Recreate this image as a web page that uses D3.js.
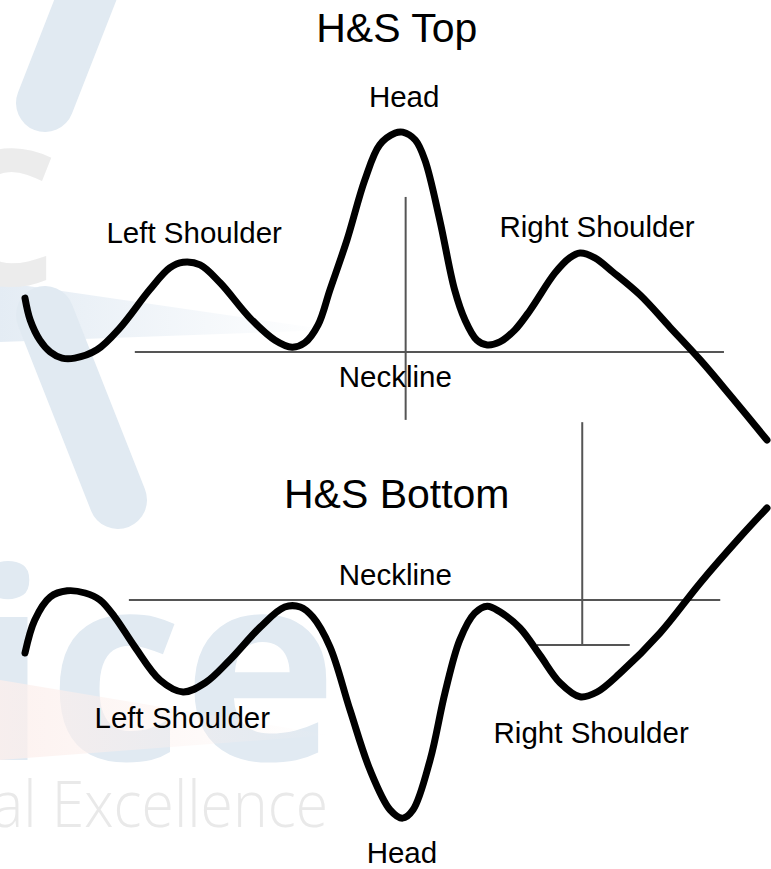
<!DOCTYPE html>
<html>
<head>
<meta charset="utf-8">
<script src="https://cdn.jsdelivr.net/npm/d3@7/dist/d3.min.js"></script>
<style>
  html, body { margin: 0; padding: 0; background: #fff; }
  svg { display: block; }
  text { font-family: "Liberation Sans", Arial, sans-serif; }
</style>
</head>
<body>
<div id="chart"></div>
<script>
var width = 771
var height = 869

// time index (0..100) vs price
var topCurve = [
  [0, 62.3], [0.7, 57.3], [2.0, 52.7], [3.4, 50.0], [5.0, 48.6], [6.7, 48.6],
  [9.7, 50.5], [12.8, 55.5], [16.8, 64.2], [19.5, 69.2], [21.3, 70.5], [23.6, 69.9],
  [26.3, 65.8], [30.3, 57.8], [33.7, 52.7], [36.0, 51.1], [37.7, 52.1], [39.5, 56.2],
  [41.1, 64.2], [43.4, 75.6], [45.8, 89.3], [47.8, 97.3], [49.9, 100.0], [50.9, 100.2],
  [52.6, 98.4], [53.9, 93.8], [55.9, 80.1], [57.9, 64.2], [59.3, 57.3], [60.9, 52.7],
  [62.3, 51.6], [64.0, 52.3], [66.0, 55.0], [68.1, 59.6], [71.4, 68.0], [73.4, 71.5],
  [74.8, 72.6], [76.8, 71.5], [79.2, 68.3], [82.9, 63.0], [86.9, 55.7], [91.0, 48.2],
  [95.0, 40.2], [100, 29.9]
]

var bottomCurve = [
  [0, 37.9], [1.3, 45.4], [3.4, 50.7], [5.7, 52.1], [8.1, 51.6], [10.1, 50.0],
  [12.1, 46.1], [14.8, 39.3], [18.2, 31.7], [21.3, 29.0], [24.3, 31.1], [27.6, 36.3],
  [31.7, 43.8], [35.0, 48.4], [37.1, 48.4], [38.8, 46.1], [41.1, 39.3], [43.8, 24.9],
  [46.5, 11.2], [49.2, 2.1], [50.9, 0.2], [52.3, 2.1], [54.6, 13.5], [56.6, 28.8],
  [58.6, 40.9], [60.6, 47.0], [62.3, 48.6], [64.0, 47.3], [66.7, 43.6], [69.4, 37.4],
  [72.1, 31.1], [74.8, 27.9], [77.1, 29.0], [80.2, 33.3], [85.6, 42.5], [91.0, 53.9],
  [96.4, 64.4], [100, 71.0]
]

// guide lines: [t1, p1, t2, p2]
var topGuides = [
  [14.8, 50, 94.2, 50],     // neckline
  [51.3, 85.4, 51.3, 34.5]  // head height
]
var bottomGuides = [
  [14.0, 50, 93.7, 50],     // neckline
  [75.1, 90.6, 75.1, 39.7], // projected target
  [69.0, 39.7, 81.5, 39.7]
]

// [text, t, price, size]
var topLabels = [
  ["H&S Top", 50.1, 120.8, 41],
  ["Head", 51.1, 105.9, 29.5],
  ["Left Shoulder", 22.8, 74.9, 29.5],
  ["Right Shoulder", 77.1, 76.3, 29.5],
  ["Neckline", 49.9, 42.0, 29.5]
]
var bottomLabels = [
  ["H&S Bottom", 50.1, 71.0, 41],
  ["Neckline", 49.9, 53.4, 29.5],
  ["Left Shoulder", 21.2, 20.8, 29.5],
  ["Right Shoulder", 76.3, 17.4, 29.5],
  ["Head", 50.8, -10.0, 29.5]
]

var svg = d3.select("#chart").append("svg")
  .attr("width", width)
  .attr("height", height)

// faint watermark behind the drawing
var defs = svg.append("defs")
var wm = svg.append("g").attr("class", "watermark")
var band = defs.append("linearGradient").attr("id", "band")
band.append("stop").attr("offset", "0%").attr("stop-color", "#e1eaf3").attr("stop-opacity", 0.9)
band.append("stop").attr("offset", "100%").attr("stop-color", "#e1eaf3").attr("stop-opacity", 0)
var pink = defs.append("linearGradient").attr("id", "pink")
pink.append("stop").attr("offset", "0%").attr("stop-color", "#fcefec").attr("stop-opacity", 0.8)
pink.append("stop").attr("offset", "100%").attr("stop-color", "#fcefec").attr("stop-opacity", 0)

wm.append("path")
  .attr("d", "M0,282 L330,330 L0,342 Z")
  .attr("fill", "url(#band)")

wm.append("text")
  .attr("x", -32)
  .attr("y", 760)
  .attr("font-size", 262)
  .attr("font-weight", "bold")
  .style("font-family", "'Open Sans', sans-serif")
  .attr("fill", "#e1eaf2")
  .text("ice")

wm.append("path")
  .attr("d", "M0,680 L330,735 L0,760 Z")
  .attr("fill", "url(#pink)")

wm.selectAll("line.stripe")
  .data([[90, -12, 45, 103], [45, 315, 118, 500]])
  .enter().append("line")
  .attr("class", "stripe")
  .attr("x1", function(d) { return d[0] })
  .attr("y1", function(d) { return d[1] })
  .attr("x2", function(d) { return d[2] })
  .attr("y2", function(d) { return d[3] })
  .attr("stroke", "#e1eaf2")
  .attr("stroke-width", 58)
  .attr("stroke-linecap", "round")

wm.append("text")
  .attr("x", -62)
  .attr("y", 285)
  .attr("font-size", 188)
  .attr("font-weight", "bold")
  .style("font-family", "'Open Sans', sans-serif")
  .attr("fill", "#ececec")
  .text("C")

wm.append("text")
  .attr("x", -8)
  .attr("y", 827)
  .attr("font-size", 64)
  .attr("font-weight", 300)
  .attr("textLength", 336)
  .attr("lengthAdjust", "spacingAndGlyphs")
  .style("font-family", "'Open Sans', sans-serif")
  .attr("fill", "#e9e9e9")
  .text("al Excellence")

var x = d3.scaleLinear().domain([0, 100]).range([25, 767])
var yTop = d3.scaleLinear().domain([0, 100]).range([571, 133])
var yBottom = d3.scaleLinear().domain([0, 100]).range([819, 381])

function drawPanel(curve, guides, labels, y) {
  var g = svg.append("g")

  g.selectAll("line.guide")
    .data(guides)
    .enter().append("line")
    .attr("class", "guide")
    .attr("x1", function(d) { return x(d[0]) })
    .attr("y1", function(d) { return y(d[1]) })
    .attr("x2", function(d) { return x(d[2]) })
    .attr("y2", function(d) { return y(d[3]) })
    .attr("stroke", "#555")
    .attr("stroke-width", 2)

  var line = d3.line()
    .x(function(d) { return x(d[0]) })
    .y(function(d) { return y(d[1]) })
    .curve(d3.curveCatmullRom.alpha(0.5))

  g.append("path")
    .datum(curve)
    .attr("d", line)
    .attr("fill", "none")
    .attr("stroke", "#000")
    .attr("stroke-width", 7)
    .attr("stroke-linecap", "round")
    .attr("stroke-linejoin", "round")

  g.selectAll("text.label")
    .data(labels)
    .enter().append("text")
    .attr("class", "label")
    .attr("x", function(d) { return x(d[1]) })
    .attr("y", function(d) { return y(d[2]) })
    .attr("text-anchor", "middle")
    .attr("font-size", function(d) { return d[3] })
    .attr("fill", "#000")
    .text(function(d) { return d[0] })
}

drawPanel(topCurve, topGuides, topLabels, yTop)
drawPanel(bottomCurve, bottomGuides, bottomLabels, yBottom)
</script>
</body>
</html>
